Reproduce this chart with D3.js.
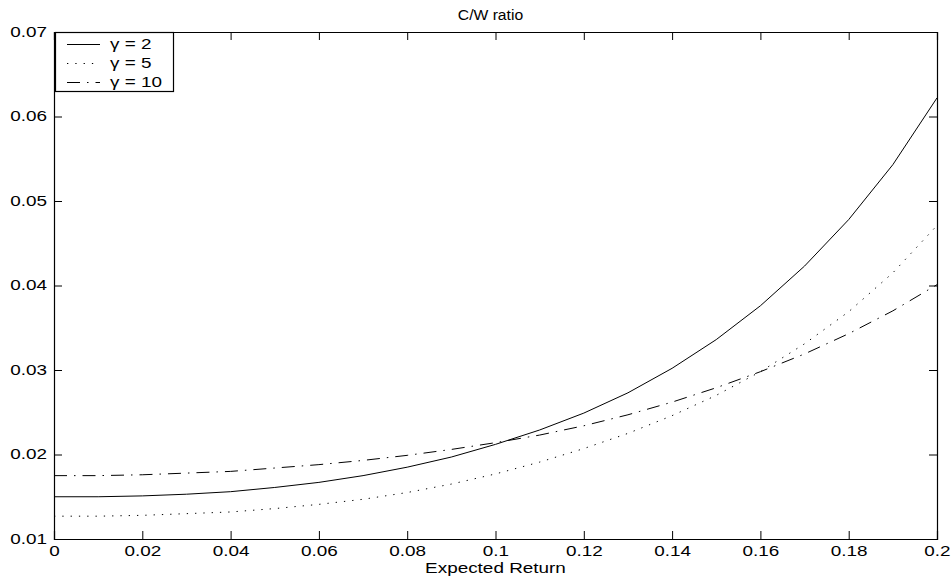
<!DOCTYPE html>
<html>
<head>
<meta charset="utf-8">
<script src="https://cdn.jsdelivr.net/npm/d3@7"></script>
<style>
body { margin: 0; background: #fff; }
text { font-family: "Liberation Sans", Arial, Helvetica, sans-serif; fill: #000; }
</style>
</head>
<body>
<div id="chart"></div>
<script>
// Expected return grid (x) and C/W ratio for each gamma
var expReturn = [0, 0.01, 0.02, 0.03, 0.04, 0.05, 0.06, 0.07, 0.08, 0.09, 0.10,
                 0.11, 0.12, 0.13, 0.14, 0.15, 0.16, 0.17, 0.18, 0.19, 0.20];
var gamma2 = [0.0150, 0.0150, 0.0151, 0.0153, 0.0156, 0.0161, 0.0167, 0.0175, 0.0185, 0.0197, 0.0212,
              0.0229, 0.0249, 0.0273, 0.0302, 0.0336, 0.0376, 0.0423, 0.0478, 0.0543, 0.0622];
var gamma5 = [0.0127, 0.0127, 0.0128, 0.0130, 0.0132, 0.0136, 0.0141, 0.0147, 0.0155, 0.0165, 0.0177,
              0.0191, 0.0207, 0.0225, 0.0246, 0.0270, 0.0298, 0.0331, 0.0369, 0.0415, 0.0471];
var gamma10 = [0.0175, 0.0175, 0.0176, 0.0178, 0.0180, 0.0184, 0.0188, 0.0193, 0.0199, 0.0206, 0.0214,
               0.0223, 0.0234, 0.0247, 0.0262, 0.0279, 0.0298, 0.0319, 0.0343, 0.0370, 0.0401];
var seriesLabels = ["\u03b3 = 2", "\u03b3 = 5", "\u03b3 = 10"];
var xTicks = [0, 0.02, 0.04, 0.06, 0.08, 0.1, 0.12, 0.14, 0.16, 0.18, 0.2];
var yTicks = [0.01, 0.02, 0.03, 0.04, 0.05, 0.06, 0.07];

var svgWidth = 951;
var svgHeight = 578;
var margin = { top: 32, right: 14, bottom: 39, left: 54 };
var width = svgWidth - margin.left - margin.right;
var height = svgHeight - margin.top - margin.bottom;

// the original figure text is drawn wide, so stretch glyphs horizontally
var stretch = 1.35;
function widen(sel, k) {
    sel.each(function() {
        var len = this.getComputedTextLength();
        d3.select(this)
            .attr("textLength", len * k)
            .attr("lengthAdjust", "spacingAndGlyphs");
    });
}

var svg = d3.select("#chart")
    .append("svg")
    .attr("width", svgWidth)
    .attr("height", svgHeight)
    .style("background", "#fff");

var chartGroup = svg.append("g")
    .attr("transform", `translate(${margin.left}, ${margin.top})`);

var xScale = d3.scaleLinear().domain([0, 0.2]).range([0, width]);
var yScale = d3.scaleLinear().domain([0.01, 0.07]).range([height, 0]);

var fmt = d => String(+d.toFixed(2));
var tickLen = 8;

// box with inward ticks on all sides
chartGroup.append("g")
    .attr("transform", `translate(0, ${height})`)
    .call(d3.axisBottom(xScale).tickValues(xTicks).tickFormat(fmt).tickSize(-tickLen).tickPadding(7));
chartGroup.append("g")
    .call(d3.axisTop(xScale).tickValues(xTicks).tickFormat("").tickSize(-tickLen));
chartGroup.append("g")
    .call(d3.axisLeft(yScale).tickValues(yTicks).tickFormat(fmt).tickSize(-tickLen).tickPadding(7));
chartGroup.append("g")
    .attr("transform", `translate(${width}, 0)`)
    .call(d3.axisRight(yScale).tickValues(yTicks).tickFormat("").tickSize(-tickLen));

chartGroup.selectAll(".domain").attr("stroke", "#000").attr("stroke-width", 1.2);
chartGroup.selectAll(".tick line").attr("stroke", "#000");
chartGroup.selectAll(".tick text").attr("font-size", "14px").attr("fill", "#000")
    .attr("font-family", "Liberation Sans, Arial, sans-serif")
    .call(widen, stretch);

// curves
var series = [
    { name: seriesLabels[0], values: gamma2, dash: null },
    { name: seriesLabels[1], values: gamma5, dash: "1.3,7" },
    { name: seriesLabels[2], values: gamma10, dash: "13,7,1.5,7" }
];

var line = d3.line()
    .x((d, i) => xScale(expReturn[i]))
    .y(d => yScale(d));

chartGroup.selectAll(".curve")
    .data(series)
    .enter()
    .append("path")
    .attr("class", "curve")
    .attr("d", d => line(d.values))
    .attr("fill", "none")
    .attr("stroke", "#000")
    .attr("stroke-width", 1)
    .attr("stroke-dasharray", d => d.dash);

// title and x label
chartGroup.append("text")
    .attr("x", width / 2 - 5)
    .attr("y", -12)
    .attr("text-anchor", "middle")
    .attr("font-size", "14px")
    .text("C/W ratio")
    .call(widen, 1.12);

chartGroup.append("text")
    .attr("x", width / 2)
    .attr("y", height + 34)
    .attr("text-anchor", "middle")
    .attr("font-size", "14px")
    .text("Expected Return")
    .call(widen, stretch);

// legend in the top left corner
var legend = chartGroup.append("g").attr("transform", "translate(1, 0)");
legend.append("rect")
    .attr("x", 0.5)
    .attr("y", 0.5)
    .attr("width", 118)
    .attr("height", 59)
    .attr("fill", "#fff")
    .attr("stroke", "#000")
    .attr("stroke-width", 1.2);

var rows = legend.selectAll(".legendRow")
    .data(series)
    .enter()
    .append("g")
    .attr("class", "legendRow")
    .attr("transform", (d, i) => `translate(0, ${12 + i * 19})`);

rows.append("line")
    .attr("x1", 12)
    .attr("x2", 45)
    .attr("y1", 0.5)
    .attr("y2", 0.5)
    .attr("stroke", "#000")
    .attr("stroke-width", 1)
    .attr("stroke-dasharray", d => d.dash);

rows.append("text")
    .attr("x", 55)
    .attr("y", 5)
    .attr("font-size", "14px")
    .text(d => d.name)
    .call(widen, stretch);
</script>
</body>
</html>
